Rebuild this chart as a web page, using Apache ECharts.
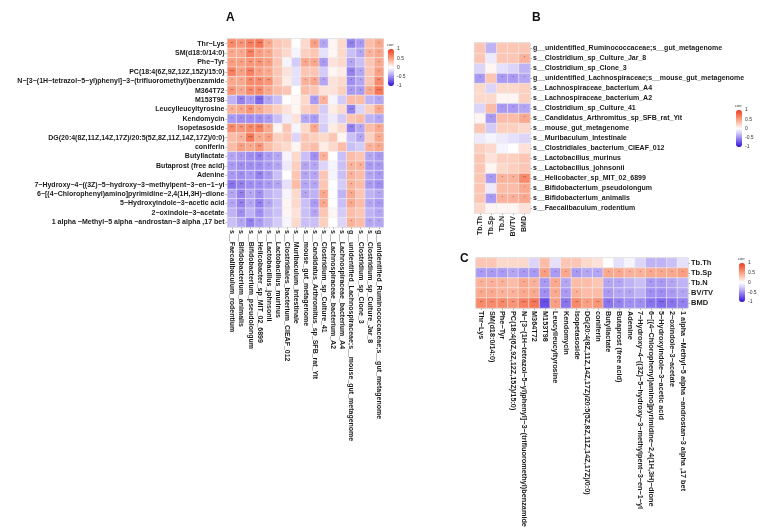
<!DOCTYPE html>
<html>
<head>
<meta charset="utf-8">
<script src="https://cdn.jsdelivr.net/npm/echarts@6/dist/echarts.min.js"></script>
<style>
html, body { margin: 0; padding: 0; background: #fff; }
#chart { width: 783px; height: 530px; }
</style>
</head>
<body>
<div id="chart"></div>
<script>
// metabolites: rows of A (top to bottom), columns of C (left to right)
var metabolites = ['Thr−Lys', 'SM(d18:0/14:0)', 'Phe−Tyr', 'PC(18:4(6Z,9Z,12Z,15Z)/15:0)',
  'N−[3−(1H−tetrazol−5−yl)phenyl]−3−(trifluoromethyl)benzamide', 'M364T72', 'M153T98',
  'Leucylleucyltyrosine', 'Kendomycin', 'Isopetasoside',
  'DG(20:4(8Z,11Z,14Z,17Z)/20:5(5Z,8Z,11Z,14Z,17Z)/0:0)', 'coniferin', 'Butyllactate',
  'Butaprost (free acid)', 'Adenine', '7−Hydroxy−4−((3Z)−5−hydroxy−3−methylpent−3−en−1−yl',
  '6−[(4−Chlorophenyl)amino]pyrimidine−2,4(1H,3H)−dione', '5−Hydroxyindole−3−acetic acid',
  '2−oxindole−3−acetate', '1 alpha −Methyl−5 alpha −androstan−3 alpha ,17 bet'];

// bacteria: columns of A (left to right), rows of B (bottom to top)
var bacteria = ['s__Faecalibaculum_rodentium', 's__Bifidobacterium_animalis',
  's__Bifidobacterium_pseudolongum', 's__Helicobacter_sp_MIT_02_6899', 's__Lactobacillus_johnsonii',
  's__Lactobacillus_murinus', 's__Clostridiales_bacterium_CIEAF_012', 's__Muribaculum_intestinale',
  's__mouse_gut_metagenome', 's__Candidatus_Arthromitus_sp_SFB_rat_Yit', 's__Clostridium_sp_Culture_41',
  's__Lachnospiraceae_bacterium_A2', 's__Lachnospiraceae_bacterium_A4',
  'g__unidentified_Lachnospiraceae;s__mouse_gut_metagenome', 's__Clostridium_sp_Clone_3',
  's__Clostridium_sp_Culture_Jar_8', 'g__unidentified_Ruminococcaceae;s__gut_metagenome'];

// bone indices: columns of B, rows of C
var bone = ['Tb.Th', 'Tb.Sp', 'Tb.N', 'BV/TV', 'BMD'];

var cbTicks = [1, 0.5, 0, -0.5, -1];

// A: metabolite (row) x bacteria (col)
var aValues = [
  [0.6, 0.55, 0.65, 0.7, 0.45, 0.3, 0.25, 0.0, 0.2, 0.5, -0.4, 0.05, 0.2, -0.55, -0.45, 0.35, 0.45],
  [0.45, 0.45, 0.65, 0.5, 0.45, 0.3, 0.2, -0.05, 0.25, 0.3, -0.15, 0.05, 0.2, -0.3, -0.4, 0.4, 0.45],
  [0.5, 0.5, 0.55, 0.55, 0.5, 0.3, -0.05, -0.25, 0.45, 0.45, -0.45, 0.15, 0.2, -0.4, -0.3, 0.3, 0.45],
  [0.65, 0.5, 0.65, 0.5, 0.45, 0.3, 0.15, -0.15, 0.3, 0.3, -0.25, 0.05, 0.1, -0.55, -0.4, 0.3, 0.5],
  [0.45, 0.45, 0.6, 0.6, 0.55, 0.3, 0.1, -0.15, 0.4, 0.45, -0.4, 0.15, 0.2, -0.5, -0.4, 0.3, 0.6],
  [0.55, 0.45, 0.6, 0.6, 0.45, 0.35, 0.3, 0.0, 0.35, 0.3, 0.15, 0.15, 0.25, -0.45, -0.45, 0.45, 0.7],
  [-0.35, -0.55, -0.45, -0.65, -0.4, -0.3, 0.0, 0.05, 0.2, -0.45, 0.4, -0.05, -0.25, 0.35, 0.35, -0.35, -0.4],
  [0.4, 0.45, 0.55, 0.45, 0.35, 0.25, 0.15, 0.05, 0.25, 0.3, -0.25, 0.1, 0.2, -0.55, -0.2, 0.25, 0.45],
  [-0.45, -0.5, -0.5, -0.5, -0.45, -0.3, -0.1, 0.15, -0.4, -0.45, -0.2, -0.1, -0.25, 0.3, 0.35, -0.35, -0.4],
  [0.6, 0.55, 0.6, 0.65, 0.45, 0.05, 0.3, -0.05, 0.2, 0.45, -0.25, 0.1, 0.2, -0.55, -0.4, 0.35, 0.45],
  [0.35, 0.4, 0.7, 0.45, 0.5, 0.25, 0.3, -0.2, 0.3, 0.25, 0.2, 0.3, 0.05, -0.3, -0.4, 0.25, 0.45],
  [0.35, 0.5, 0.45, 0.55, 0.35, 0.25, 0.2, 0.05, 0.3, 0.35, 0.1, 0.2, 0.35, -0.3, -0.25, 0.4, 0.45],
  [-0.4, -0.45, -0.5, -0.55, -0.45, -0.4, -0.05, 0.2, -0.3, -0.5, 0.4, 0.0, -0.3, 0.35, 0.3, -0.4, -0.45],
  [-0.45, -0.5, -0.5, -0.5, -0.45, -0.4, -0.1, 0.25, -0.4, -0.4, -0.2, -0.05, -0.3, 0.4, 0.4, -0.45, -0.45],
  [-0.45, -0.5, -0.45, -0.55, -0.45, -0.3, 0.0, 0.3, -0.4, -0.4, 0.3, -0.05, -0.3, 0.4, 0.35, -0.4, -0.45],
  [-0.6, -0.55, -0.5, -0.5, -0.45, -0.4, -0.15, 0.35, -0.4, -0.4, 0.3, 0.0, -0.25, 0.4, 0.35, -0.45, -0.5],
  [-0.4, -0.55, -0.4, -0.5, -0.35, -0.3, -0.05, 0.2, -0.4, -0.35, 0.45, 0.0, -0.35, 0.45, 0.3, -0.35, -0.4],
  [-0.4, -0.55, -0.4, -0.55, -0.4, -0.3, 0.05, 0.2, -0.3, -0.45, 0.45, 0.0, -0.3, 0.45, 0.35, -0.4, -0.45],
  [-0.35, -0.5, -0.35, -0.5, -0.35, -0.3, 0.05, 0.15, -0.3, -0.4, 0.3, 0.05, -0.25, 0.35, 0.3, -0.35, -0.4],
  [-0.3, -0.4, -0.55, -0.45, -0.35, -0.25, -0.05, 0.2, -0.3, -0.3, 0.25, 0.0, -0.2, 0.4, 0.35, -0.4, -0.4]
];

// B: bacteria (same order as `bacteria`) x bone
var bValues = [
  [0.2, 0.05, 0.05, 0.05, 0.15],
  [0.3, -0.45, 0.4, 0.4, 0.45],
  [0.3, -0.1, 0.35, 0.35, 0.45],
  [0.3, -0.45, 0.4, 0.4, 0.6],
  [0.3, 0.05, 0.2, 0.25, 0.3],
  [0.3, 0.15, 0.25, 0.25, 0.3],
  [0.25, 0.2, -0.05, 0.0, 0.15],
  [-0.1, -0.05, -0.1, -0.15, -0.2],
  [0.3, -0.25, 0.25, 0.25, 0.2],
  [0.05, -0.45, 0.35, 0.35, 0.45],
  [-0.2, 0.35, -0.45, -0.45, -0.4],
  [0.2, 0.2, 0.05, 0.05, 0.25],
  [0.2, -0.2, 0.2, 0.2, 0.25],
  [-0.45, 0.3, -0.45, -0.45, -0.4],
  [-0.2, 0.05, -0.15, -0.2, -0.35],
  [0.3, -0.1, 0.3, 0.3, 0.4],
  [0.3, -0.35, 0.3, 0.3, 0.3]
];

// C: bone (row) x metabolite (col)
var cValues = [
  [0.3, 0.3, 0.2, 0.2, 0.2, -0.2, 0.35, -0.15, 0.3, 0.3, 0.2, 0.15, 0.0, -0.15, -0.05, -0.2, -0.35, -0.35, -0.3, -0.15],
  [-0.45, -0.45, -0.45, -0.4, -0.45, -0.45, 0.5, -0.45, 0.45, -0.45, -0.4, -0.4, 0.45, 0.45, 0.4, 0.4, 0.45, 0.45, 0.45, 0.5],
  [0.4, 0.4, 0.4, 0.35, 0.45, 0.4, -0.45, 0.45, -0.4, 0.35, 0.35, 0.3, -0.4, -0.4, -0.35, -0.3, -0.45, -0.45, -0.4, -0.35],
  [0.45, 0.45, 0.4, 0.4, 0.45, 0.45, -0.5, 0.45, -0.45, 0.4, 0.35, 0.35, -0.45, -0.4, -0.4, -0.35, -0.5, -0.5, -0.45, -0.4],
  [0.6, 0.6, 0.6, 0.55, 0.65, 0.7, -0.75, 0.5, -0.6, 0.6, 0.5, 0.55, -0.6, -0.55, -0.5, -0.5, -0.6, -0.65, -0.6, -0.55]
];

var palette = ['#3010d0', '#6a50e8', '#a08ef2', '#d4cbf8', '#ffffff', '#fdcfbf', '#fb9f82', '#f76d4c', '#ee3a1c'];
var FONT = 'Liberation Sans';

function toCells(rows) {
  var out = [];
  rows.forEach(function (r, i) {
    r.forEach(function (v, j) { out.push([j, i, v]); });
  });
  return out;
}

function stars(v) {
  var a = Math.abs(v);
  if (a >= 0.65) return '***';
  if (a >= 0.55) return '**';
  if (a >= 0.4) return '*';
  return '';
}

function catAxis(idx, data, pos, rot, inverse, size) {
  return {
    type: 'category', gridIndex: idx, data: data, position: pos, inverse: !!inverse,
    axisLine: { show: false },
    axisTick: { show: true, length: 2, alignWithLabel: true, lineStyle: { color: '#777', width: 0.6 } },
    splitLine: { show: false },
    axisLabel: {
      interval: 0, rotate: rot, fontSize: size || 7, fontWeight: 'bold', fontFamily: FONT,
      color: '#1a1a1a', margin: 3
    }
  };
}

function heat(idx, rows) {
  return {
    type: 'heatmap', xAxisIndex: idx, yAxisIndex: idx, data: toCells(rows),
    itemStyle: { borderColor: '#eeeeee', borderWidth: 0.6 },
    label: {
      show: true, fontSize: 4, color: 'rgba(50,50,50,0.75)', fontFamily: FONT,
      formatter: function (p) { return stars(p.value[2]); }
    },
    emphasis: { disabled: true }
  };
}

// colour bars: [seriesIndex, left, top, height]
var bars = [[0, 388, 49, 37], [1, 736, 110, 37], [2, 739, 263, 39]];

var graphics = [
  { type: 'text', left: 226, top: 12, style: { text: 'A', font: 'bold 12px ' + FONT, fill: '#111' } },
  { type: 'text', left: 532, top: 12, style: { text: 'B', font: 'bold 12px ' + FONT, fill: '#111' } },
  { type: 'text', left: 460, top: 253, style: { text: 'C', font: 'bold 12px ' + FONT, fill: '#111' } }
];
bars.forEach(function (b) {
  graphics.push({ type: 'text', x: b[1] - 1, y: b[2] - 6, style: { text: 'corr', font: '4px ' + FONT, fill: '#333' } });
  cbTicks.forEach(function (t) {
    graphics.push({
      type: 'text', x: b[1] + 9, y: b[2] + (1 - t) / 2 * b[3],
      style: { text: String(t), font: '5px ' + FONT, fill: '#333', verticalAlign: 'middle' }
    });
  });
});

var chart = echarts.init(document.getElementById('chart'));
chart.setOption({
  backgroundColor: '#fff',
  animation: false,
  grid: [
    { left: 227.5, top: 39, width: 156, height: 188, show: true, borderColor: '#999', borderWidth: 0.8, outerBoundsMode: 'none' },
    { left: 474.5, top: 43, width: 55.5, height: 170, show: true, borderColor: '#999', borderWidth: 0.8, outerBoundsMode: 'none' },
    { left: 476, top: 258, width: 212, height: 50, show: true, borderColor: '#999', borderWidth: 0.8, outerBoundsMode: 'none' }
  ],
  xAxis: [
    catAxis(0, bacteria, 'bottom', -90, false, 7),
    catAxis(1, bone, 'bottom', 90, false, 7),
    catAxis(2, metabolites, 'bottom', -90, false, 7.3)
  ],
  yAxis: [
    catAxis(0, metabolites, 'left', 0, true, 7),
    catAxis(1, bacteria, 'right', 0, false, 7),
    catAxis(2, bone, 'right', 0, true, 7.5)
  ],
  visualMap: bars.map(function (b) {
    return {
      type: 'continuous', seriesIndex: b[0], min: -1, max: 1, calculable: false,
      orient: 'vertical', left: b[1], top: b[2], itemWidth: 6, itemHeight: b[3],
      padding: 0, inRange: { color: palette }
    };
  }),
  graphic: graphics,
  series: [heat(0, aValues), heat(1, bValues), heat(2, cValues)]
});
</script>
</body>
</html>
